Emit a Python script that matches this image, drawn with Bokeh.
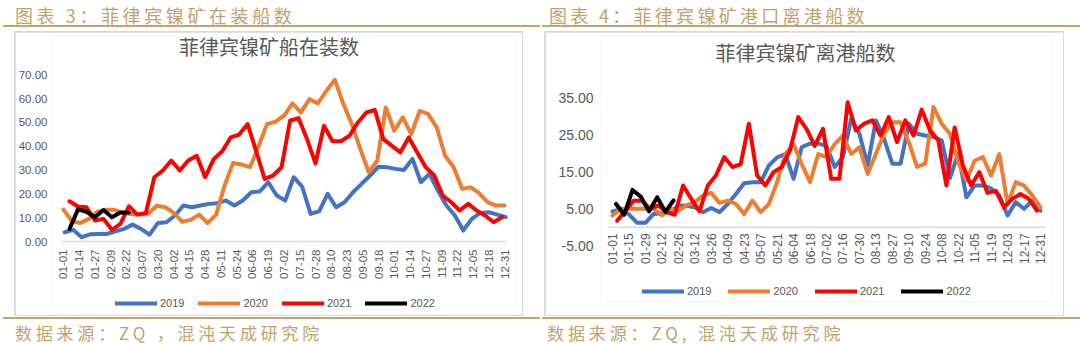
from math import pi
from datetime import date
from bokeh.plotting import figure
from bokeh.models import (Range1d, FixedTicker, PrintfTickFormatter, Legend, LegendItem,
                          Div, Label)
from bokeh.layouts import row, column
from bokeh.embed import file_html
from bokeh.resources import INLINE
from bokeh.core.properties import value

# ---------------- data ----------------
years = ["2019", "2020", "2021", "2022"]
colors = ["#4472C4", "#ED7D31", "#FF0000", "#000000"]

# Chart 3: ships loading (weekly)
left_tick_labels = ["01-01", "01-14", "01-27", "02-09", "02-22", "03-07", "03-20", "04-02",
                    "04-15", "04-28", "05-11", "05-24", "06-06", "06-19", "07-02", "07-15",
                    "07-28", "08-10", "08-23", "09-05", "09-18", "10-01", "10-14", "10-27",
                    "11-09", "11-22", "12-05", "12-18", "12-31"]
left_y_ticks = [0, 10, 20, 30, 40, 50, 60, 70]
left_starts = ["01-02", "01-01", "01-06", "01-06"]
left_2019 = [3.9, 4.9, 1.8, 3.0, 3.2, 3.2, 4.3, 5.3, 7.1, 5.3, 2.9, 7.8, 8.1, 10.9, 15.1, 14.4,
             15.1, 15.8, 16.1, 17.2, 15.1, 17.2, 20.7, 21.0, 24.9, 19.3, 17.2, 27.0, 23.0, 11.6,
             12.7, 20.0, 14.4, 16.5, 20.7, 24.2, 27.7, 31.4, 31.2, 30.5, 30.0, 34.7, 24.9, 28.4,
             21.4, 15.1, 10.9, 4.6, 9.5, 12.0, 12.3, 11.3, 10.2]
left_2020 = [13.4, 8.5, 7.8, 9.5, 12.5, 13.3, 13.3, 12.0, 11.5, 11.3, 11.6, 15.0, 14.4, 12.0,
             8.3, 9.1, 11.3, 7.7, 11.3, 23.5, 33.0, 32.3, 31.2, 40.0, 49.3, 50.3, 52.8, 58.0,
             54.2, 59.8, 58.0, 63.3, 67.9, 57.7, 49.3, 38.8, 29.1, 34.0, 56.3, 46.5, 52.1, 45.1,
             54.9, 53.5, 47.9, 36.0, 31.2, 22.1, 22.8, 20.3, 16.5, 15.1, 15.1]
left_2021 = [16.9, 14.7, 14.4, 8.8, 9.5, 4.9, 7.4, 14.8, 11.3, 12.0, 27.0, 29.8, 34.0, 29.8,
             34.0, 36.0, 27.0, 34.6, 37.9, 43.7, 44.9, 49.3, 38.0, 26.3, 27.7, 31.2, 50.7, 51.8,
             43.0, 32.8, 48.6, 42.1, 42.1, 44.4, 50.0, 54.2, 55.2, 43.0, 40.2, 37.4, 43.7, 37.4,
             31.2, 27.7, 19.3, 16.5, 13.0, 15.8, 13.0, 10.9, 8.1, 10.2]
left_2022 = [5.3, 13.5, 12.5, 10.2, 13.2, 10.2, 12.2, 12.2]

# Chart 4: ships leaving port (weekly)
right_tick_labels = ["01-01", "01-15", "01-29", "02-12", "02-26", "03-12", "03-26", "04-09",
                     "04-23", "05-07", "05-21", "06-04", "06-18", "07-02", "07-16", "07-30",
                     "08-13", "08-27", "09-10", "09-24", "10-08", "10-22", "11-05", "11-19",
                     "12-03", "12-17", "12-31"]
right_y_ticks = [-5, 5, 15, 25, 35]
right_starts = ["01-01", "01-01", "01-05", "01-04"]
right_2019 = [4.3, 4.8, 3.5, 1.2, 1.2, 3.6, 3.8, 4.0, 5.9, 5.8, 5.4, 4.1, 5.2, 4.1, 6.3, 9.0,
              11.9, 12.2, 12.2, 16.7, 18.9, 19.8, 13.1, 21.7, 22.6, 22.6, 22.0, 16.3, 19.0, 29.3,
              25.3, 16.7, 28.9, 23.9, 17.2, 17.2, 28.0, 25.3, 24.8, 24.4, 23.5, 13.3, 20.0, 8.1,
              11.3, 11.3, 10.5, 8.6, 3.2, 6.8, 5.0, 7.2, 4.5]
right_2020 = [3.2, 5.0, 5.0, 5.0, 5.0, 5.0, 3.2, 5.0, 4.5, 5.9, 6.8, 8.6, 9.3, 6.6, 7.2, 6.3,
              3.6, 7.2, 4.1, 6.3, 12.2, 19.8, 22.5, 17.0, 12.2, 19.8, 19.0, 22.5, 24.8, 19.8,
              21.6, 14.4, 19.8, 25.3, 28.4, 28.4, 23.0, 16.3, 17.2, 32.5, 28.0, 25.3, 17.6, 12.6,
              18.0, 19.0, 14.0, 19.8, 6.3, 12.2, 11.3, 8.6, 5.4]
right_2021 = [1.8, 4.5, 7.2, 7.2, 5.0, 5.9, 4.1, 3.4, 11.3, 7.7, 4.3, 11.3, 14.0, 19.0, 16.3,
              17.0, 28.0, 14.0, 11.3, 14.9, 16.3, 20.8, 29.8, 26.6, 22.0, 26.6, 13.1, 13.1, 33.8,
              26.2, 28.0, 28.9, 24.8, 29.8, 23.0, 28.9, 24.8, 31.8, 26.2, 23.5, 11.3, 27.0, 16.7,
              11.3, 14.9, 9.3, 9.9, 5.4, 7.7, 9.0, 7.7, 4.5]
right_2022 = [6.3, 3.4, 10.1, 8.3, 4.3, 8.1, 4.2, 7.3]

left_title = "菲律宾镍矿船在装数"
right_title = "菲律宾镍矿离港船数"
left_header = "图表 3：菲律宾镍矿在装船数"
right_header = "图表 4：菲律宾镍矿港口离港船数"
left_source = "数据来源：ZQ ，混沌天成研究院"
right_source = "数据来源：ZQ, 混沌天成研究院"

# ---------------- styling ----------------
GRAY_TXT = "#595959"
AXIS_GRAY = "#D9D9D9"
GOLD_TXT = "#BFA36F"
GOLD_LINE = "#C2A56E"
NUM_FONT = "Liberation Sans"
CJK_FONT = "Noto Sans CJK SC"


def doy(mmdd):
    m, d = map(int, mmdd.split("-"))
    return (date(2019, m, d) - date(2019, 1, 1)).days


def weekly(start, vals):
    s = doy(start)
    return [s + 7 * i for i in range(len(vals))]


class Geo:
    """pixel geometry of one chart (figure placed at fig_left/fig_top on the page)"""
    def __init__(self, fig_left, fig_top, w, h, frame, axis_span, day0_px, day364_px,
                 v_ref, px_ref, px_per_unit):
        self.fig_left, self.fig_top, self.w, self.h = fig_left, fig_top, w, h
        self.fl, self.ft, self.fr, self.fb = frame
        self.axis_span = axis_span
        self.day0 = day0_px
        self.kx = (day364_px - day0_px) / 364.0
        self.v_ref, self.px_ref, self.ky = v_ref, px_ref, px_per_unit

    def day(self, px):
        return (px - self.day0) / self.kx

    def val(self, py):
        return self.v_ref + (self.px_ref - py) / self.ky

    def fig(self):
        return figure(width=self.w, height=self.h, output_backend="svg", toolbar_location=None,
                      x_range=Range1d(self.day(self.fl), self.day(self.fr)),
                      y_range=Range1d(self.val(self.fb), self.val(self.ft)),
                      x_axis_location=None,
                      min_border_left=self.fl - self.fig_left,
                      min_border_right=self.fig_left + self.w - self.fr,
                      min_border_top=self.ft - self.fig_top,
                      min_border_bottom=self.fig_top + self.h - self.fb,
                      background_fill_color="white", border_fill_color="white",
                      outline_line_color=None, margin=(1, 1, 1, 1))


def style_y(p, ticks, size, standoff):
    ax = p.yaxis[0]
    ax.ticker = FixedTicker(ticks=ticks)
    ax.formatter = PrintfTickFormatter(format="%.2f")
    ax.axis_line_color = None
    ax.major_tick_line_color = None
    ax.minor_tick_line_color = None
    ax.major_tick_out = 0
    ax.major_tick_in = 0
    ax.major_label_standoff = standoff
    ax.major_label_text_font = NUM_FONT
    ax.major_label_text_font_size = size
    ax.major_label_text_color = GRAY_TXT


def x_axis(p, g, labels, size, offset):
    days = [doy(t) for t in labels]
    a0, a1 = g.axis_span
    p.segment(x0=[g.day(a0)], y0=[0], x1=[g.day(a1)], y1=[0],
              line_color=AXIS_GRAY, line_width=1.5)
    p.text(x=days, y=[0] * len(days), text=labels, angle=pi / 2, text_align="right",
           text_baseline="middle", y_offset=offset, text_font=value(NUM_FONT),
           text_font_size=size, text_color=GRAY_TXT)


def add_lines(p, series, starts):
    rs = []
    for vals, st, c in zip(series, starts, colors):
        rs.append(p.line(weekly(st, vals), vals, line_color=c, line_width=4,
                         line_join="round", line_cap="round"))
    return rs


def add_legend(p, rs, loc, spacing):
    items = [LegendItem(label=y, renderers=[r]) for y, r in zip(years, rs)]
    lg = Legend(items=items, location=loc, orientation="horizontal", glyph_width=42,
                glyph_height=16, label_height=16, label_standoff=3, spacing=spacing,
                padding=0, margin=0, border_line_color=None, background_fill_alpha=0,
                label_text_font=NUM_FONT, label_text_font_size="11px",
                label_text_color=GRAY_TXT)
    p.add_layout(lg)


def add_title(p, g, txt, cx, cy):
    p.add_layout(Label(x=g.day(cx), y=g.val(cy), text=txt, text_align="center",
                       text_baseline="middle", text_font=CJK_FONT, text_font_size="20px",
                       text_color=GRAY_TXT))


def text_div(txt, left, pad, top_pad, size, spacing):
    html = (f'<div style="font-family:\'{CJK_FONT}\';font-size:{size}px;line-height:{size}px;'
            f'padding:{top_pad}px 0 0 {pad}px;color:{GOLD_TXT};letter-spacing:{spacing}px;'
            f'white-space:nowrap;">{txt}</div>')
    return Div(text=html, width=540 - left, height=25, margin=(0, 0, 0, left))


def line_div(left, top=0):
    return Div(text="", width=540 - left, height=2, margin=(top, 0, 0, left),
               styles={"background-color": GOLD_LINE})


# ---------------- left chart ----------------
gl = Geo(fig_left=15, fig_top=32, w=507, h=283, frame=(50, 36, 516, 314), axis_span=(60, 506),
         day0_px=62, day364_px=504, v_ref=0, px_ref=241, px_per_unit=166.7 / 70)
pl = gl.fig()
pl.grid.visible = False
style_y(pl, left_y_ticks, "11.5px", 4)
x_axis(pl, gl, left_tick_labels, "11.5px", 8)
add_title(pl, gl, left_title, 268, 46)
rl = add_lines(pl, [left_2019, left_2020, left_2021, left_2022], left_starts)
add_legend(pl, rl, (114 - gl.fl, gl.fb - 311), 14)

# ---------------- right chart ----------------
gr = Geo(fig_left=545, fig_top=32, w=518, h=283, frame=(600, 36, 1052, 301), axis_span=(608, 1045),
         day0_px=612, day364_px=1040, v_ref=0, px_ref=226.8, px_per_unit=3.7)
pr = gr.fig()
pr.grid.visible = False
style_y(pr, right_y_ticks, "14px", 7)
x_axis(pr, gr, right_tick_labels, "12px", 6)
add_title(pr, gr, right_title, 805, 52)
rr = add_lines(pr, [right_2019, right_2020, right_2021, right_2022], right_starts)
add_legend(pr, rr, (642 - gr.fl, gr.fb - 299), 17)

# ---------------- page layout ----------------
box_l = column(pl, width=509, height=285, margin=(4, 0, 0, 14),
               styles={"background-color": AXIS_GRAY})
box_r = column(pr, width=520, height=285, margin=(4, 0, 0, 4),
               styles={"background-color": AXIS_GRAY})

left_panel = column(text_div(left_header, 3, 12, 6, 18, 3.6), line_div(3), box_l, line_div(3, 1),
                    text_div(left_source, 3, 12, 5, 17, 3.8))
right_panel = column(text_div(right_header, 2, 7, 6, 18, 3.3), line_div(2), box_r, line_div(2, 1),
                     text_div(right_source, 2, 5, 5, 17, 3.9))

p = row(left_panel, right_panel)

open("out.html", "w").write(file_html(p, INLINE))
